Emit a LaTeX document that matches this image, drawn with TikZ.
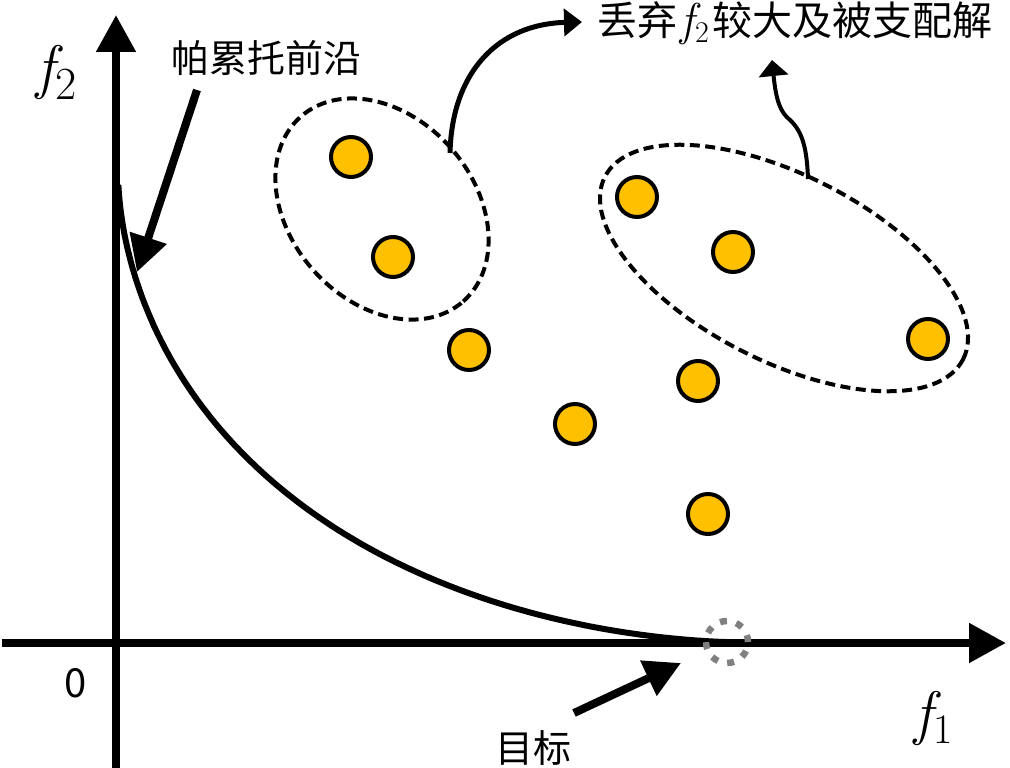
\documentclass[tikz,border=0pt]{standalone}
\usepackage{fontspec}
\newfontfamily\cjk{Noto Sans CJK SC}
\usetikzlibrary{arrows.meta,shapes.geometric}
\definecolor{dotyellow}{HTML}{FFC000}
\definecolor{tgtgray}{HTML}{808080}
\newcommand{\ffsub}[4]{{\rmfamily\fontsize{#1}{#1}\selectfont\itshape f}\kern1pt\raisebox{#4}{\rmfamily\fontsize{#2}{#2}\selectfont #3}}
\begin{document}
\begin{tikzpicture}[x=1pt,y=-1pt,
  axisline/.style={line width=8pt,-{Triangle[length=37pt,width=38pt]}},
  bigarrow/.style={line width=8pt,-{Triangle[length=36pt,width=37pt]}},
  curvearrow/.style={line width=5pt,-{Triangle[length=18pt,width=27pt]}},
  wigglearrow/.style={line width=4pt,-{Triangle[length=16pt,width=29pt]}},
  dot/.style={circle,draw=black,line width=4pt,fill=dotyellow,minimum size=40pt,inner sep=0pt},
  group/.style={ellipse,draw=black,line width=4pt,dash pattern=on 10pt off 5.5pt,inner sep=0pt},
  target/.style={circle,draw=tgtgray,line width=6.5pt,dash pattern=on 7pt off 9.5pt,minimum size=42pt,inner sep=0pt},
  cjklabel/.style={inner sep=0pt,font=\cjk\fontsize{38}{44}\selectfont},
  axislabel/.style={inner sep=0pt}
]
\useasboundingbox (0,0) rectangle (1010,768);
\fill[white] (0,0) rectangle (1010,768);

% axes
\coordinate (ybot) at (116,768);
\coordinate (ytop) at (116,15);
\coordinate (xleft) at (2,643);
\coordinate (xright) at (1006,643);
\draw[axisline] (ybot) -- (ytop);
\draw[axisline] (xleft) -- (xright);

% Pareto front (superellipse-like curve)
\coordinate (pfEnd) at (802,642.5);
\draw[line width=6pt,line join=round]
  plot[domain=83:0.3,samples=240,variable=\t]
  ({118 + 630*(cos(\t))^3.55}, {642.5 - 470*(sin(\t))^3.55}) -- (pfEnd);

% groups
\node[group,minimum width=246pt,minimum height=184pt,rotate=-48.7] (g1) at (382,209) {};
\node[group,minimum width=402pt,minimum height=186pt,rotate=-27] (g2) at (784,268) {};

% dots
\node[dot] (d1) at (351,157) {};
\node[dot] (d2) at (393,257) {};
\node[dot] (d3) at (469,350) {};
\node[dot] (d4) at (637,197) {};
\node[dot] (d5) at (733,252) {};
\node[dot] (d6) at (928,339) {};
\node[dot] (d7) at (698,381) {};
\node[dot] (d8) at (575,424) {};
\node[dot] (d9) at (708,514) {};

% target
\node[target] (tc) at (727,642) {};

% labels
\node[axislabel,anchor=base west] (f2) at (36,88) {\ffsub{60}{46}{2}{-12pt}};
\node[axislabel,anchor=base west] (f1) at (914,733) {\ffsub{60}{42}{1}{-10pt}};
\node[cjklabel,anchor=base,font=\cjk\fontsize{40}{44}\selectfont] (zero) at (76,697) {0};
\node[cjklabel,anchor=base] (pf) at (266,73) {帕累托前沿};
\node[cjklabel,anchor=base west,font=\cjk\fontsize{40}{44}\selectfont] (disc) at (597,36)
  {丢弃\kern3pt\ffsub{46}{30}{2}{-7pt}\kern4pt 较大及被支配解};
\node[cjklabel,anchor=base] (goal) at (533,762) {目标};

% connectors
\coordinate (pfTail) at (197,90);
\coordinate (pfTip) at (137,272);
\draw[bigarrow] (pfTail) -- (pfTip);

\coordinate (s1) at (450,153);
\coordinate (tip1) at (582,22);
\draw[curvearrow] (s1) .. controls (452,70) and (500,24) .. (tip1);

\coordinate (s2) at (808,179);
\coordinate (tip2) at (772,60);
\draw[wigglearrow] (s2) .. controls (807,150) and (803,132) .. (790,120)
  .. controls (780,112) and (776,100) .. (tip2);

\coordinate (goalTail) at (574,713);
\coordinate (goalTip) at (681,663);
\draw[bigarrow] (goalTail) -- (goalTip);
\end{tikzpicture}
\end{document}
